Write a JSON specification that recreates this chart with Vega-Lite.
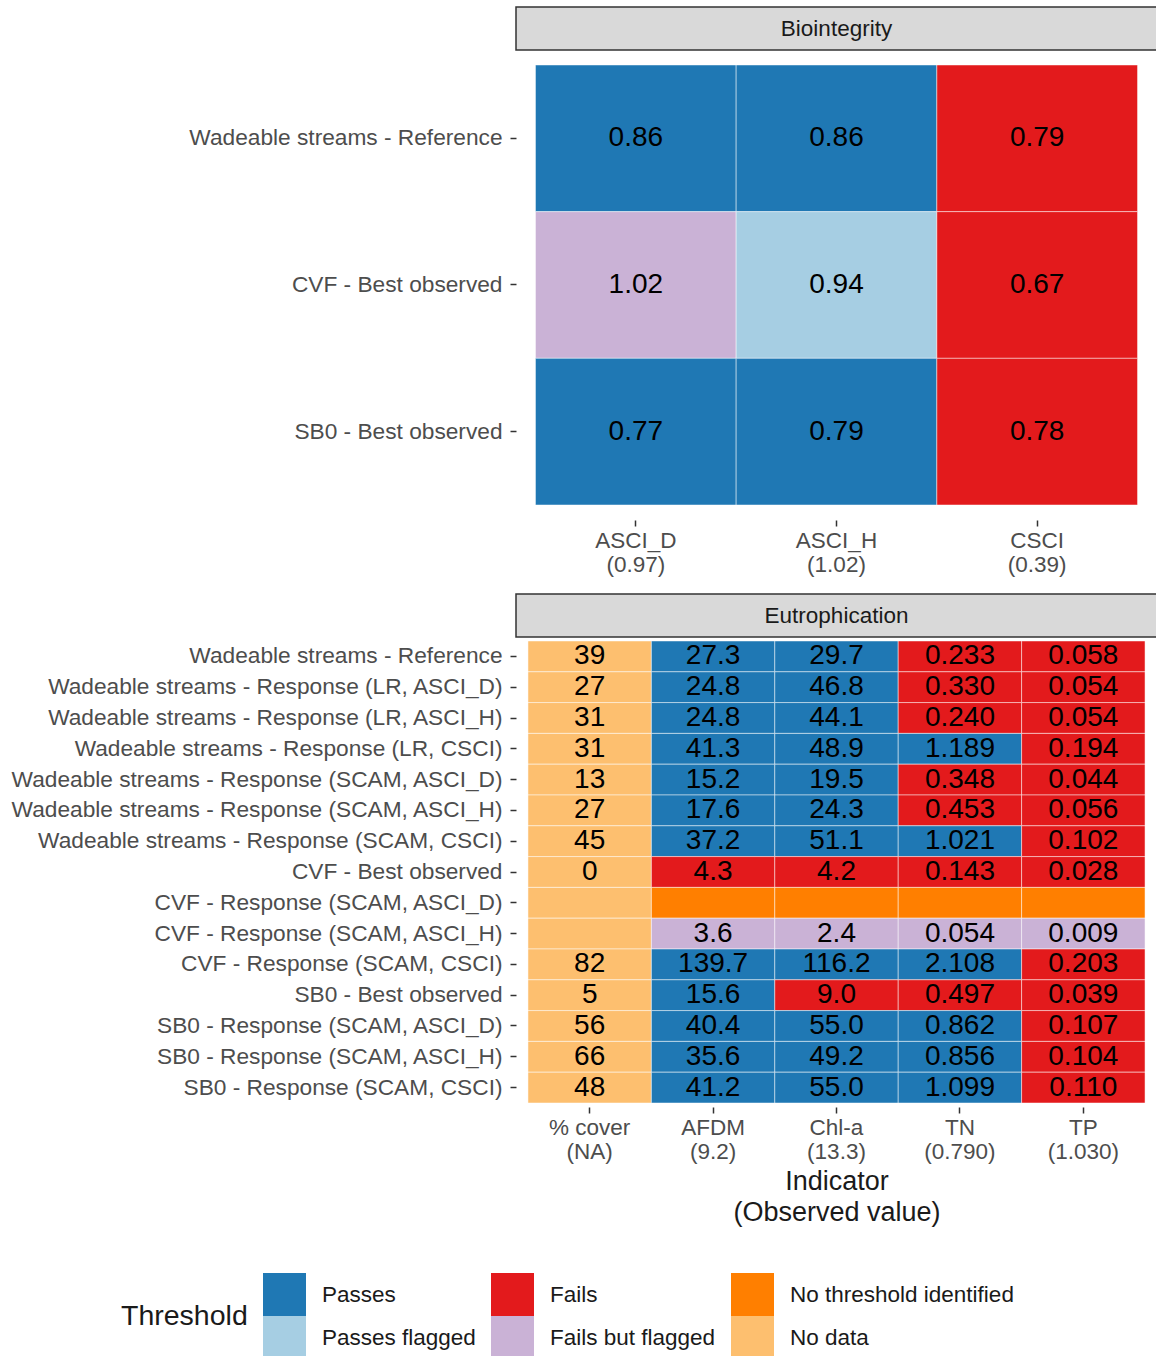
{
  "$schema": "https://vega.github.io/schema/vega-lite/v6.json",
  "padding": {"left": 9, "top": 6, "right": 0, "bottom": 0},
  "autosize": {"type": "pad"},
  "spacing": 0,
  "bounds": "flush",
  "config": {
    "font": "Liberation Sans",
    "view": {"stroke": null},
    "axis": {
      "domain": false, "grid": false, "ticks": true,
      "tickColor": "#333333", "tickWidth": 1.5, "tickSize": 6,
      "labelColor": "#4D4D4D", "labelFontSize": 22.5, "labelPadding": 4, "labelLimit": 700,
      "titleColor": "#1A1A1A", "titleFontWeight": "normal"
    },
    "axisX": {"labelAngle": 0, "labelLineHeight": 24, "labelPadding": 3},
    "axisY": {"labelPadding": 8, "labelFontSize": 22.7},
    "legend": {
      "orient": "none", "legendX": -395, "legendY": 1266,
      "direction": "horizontal", "columns": 3,
      "symbolType": "square", "symbolSize": 1849, "symbolStrokeWidth": 0, "symbolOpacity": 1,
      "titleOrient": "left", "titleFontSize": 28.5, "titleFontWeight": "normal", "titleColor": "#1A1A1A",
      "titleAnchor": "middle", "titleBaseline": "middle", "titlePadding": 15,
      "labelFontSize": 22.5, "labelColor": "#1A1A1A", "labelOffset": 16, "labelLimit": 400,
      "rowPadding": 0, "columnPadding": 15, "gridAlign": "each"
    }
  },
  "datasets": {
    "bio": [
      {"site": "Wadeable streams - Reference", "indicator": "ASCI_D|(0.97)", "label": "0.86", "status": "Passes"},
      {"site": "Wadeable streams - Reference", "indicator": "ASCI_H|(1.02)", "label": "0.86", "status": "Passes"},
      {"site": "Wadeable streams - Reference", "indicator": "CSCI|(0.39)", "label": "0.79", "status": "Fails"},
      {"site": "CVF - Best observed", "indicator": "ASCI_D|(0.97)", "label": "1.02", "status": "Fails but flagged"},
      {"site": "CVF - Best observed", "indicator": "ASCI_H|(1.02)", "label": "0.94", "status": "Passes flagged"},
      {"site": "CVF - Best observed", "indicator": "CSCI|(0.39)", "label": "0.67", "status": "Fails"},
      {"site": "SB0 - Best observed", "indicator": "ASCI_D|(0.97)", "label": "0.77", "status": "Passes"},
      {"site": "SB0 - Best observed", "indicator": "ASCI_H|(1.02)", "label": "0.79", "status": "Passes"},
      {"site": "SB0 - Best observed", "indicator": "CSCI|(0.39)", "label": "0.78", "status": "Fails"}
    ],
    "eut": [
      {"site": "Wadeable streams - Reference", "indicator": "% cover|(NA)", "label": "39", "status": "No data"},
      {"site": "Wadeable streams - Reference", "indicator": "AFDM|(9.2)", "label": "27.3", "status": "Passes"},
      {"site": "Wadeable streams - Reference", "indicator": "Chl-a|(13.3)", "label": "29.7", "status": "Passes"},
      {"site": "Wadeable streams - Reference", "indicator": "TN|(0.790)", "label": "0.233", "status": "Fails"},
      {"site": "Wadeable streams - Reference", "indicator": "TP|(1.030)", "label": "0.058", "status": "Fails"},
      {"site": "Wadeable streams - Response (LR, ASCI_D)", "indicator": "% cover|(NA)", "label": "27", "status": "No data"},
      {"site": "Wadeable streams - Response (LR, ASCI_D)", "indicator": "AFDM|(9.2)", "label": "24.8", "status": "Passes"},
      {"site": "Wadeable streams - Response (LR, ASCI_D)", "indicator": "Chl-a|(13.3)", "label": "46.8", "status": "Passes"},
      {"site": "Wadeable streams - Response (LR, ASCI_D)", "indicator": "TN|(0.790)", "label": "0.330", "status": "Fails"},
      {"site": "Wadeable streams - Response (LR, ASCI_D)", "indicator": "TP|(1.030)", "label": "0.054", "status": "Fails"},
      {"site": "Wadeable streams - Response (LR, ASCI_H)", "indicator": "% cover|(NA)", "label": "31", "status": "No data"},
      {"site": "Wadeable streams - Response (LR, ASCI_H)", "indicator": "AFDM|(9.2)", "label": "24.8", "status": "Passes"},
      {"site": "Wadeable streams - Response (LR, ASCI_H)", "indicator": "Chl-a|(13.3)", "label": "44.1", "status": "Passes"},
      {"site": "Wadeable streams - Response (LR, ASCI_H)", "indicator": "TN|(0.790)", "label": "0.240", "status": "Fails"},
      {"site": "Wadeable streams - Response (LR, ASCI_H)", "indicator": "TP|(1.030)", "label": "0.054", "status": "Fails"},
      {"site": "Wadeable streams - Response (LR, CSCI)", "indicator": "% cover|(NA)", "label": "31", "status": "No data"},
      {"site": "Wadeable streams - Response (LR, CSCI)", "indicator": "AFDM|(9.2)", "label": "41.3", "status": "Passes"},
      {"site": "Wadeable streams - Response (LR, CSCI)", "indicator": "Chl-a|(13.3)", "label": "48.9", "status": "Passes"},
      {"site": "Wadeable streams - Response (LR, CSCI)", "indicator": "TN|(0.790)", "label": "1.189", "status": "Passes"},
      {"site": "Wadeable streams - Response (LR, CSCI)", "indicator": "TP|(1.030)", "label": "0.194", "status": "Fails"},
      {"site": "Wadeable streams - Response (SCAM, ASCI_D)", "indicator": "% cover|(NA)", "label": "13", "status": "No data"},
      {"site": "Wadeable streams - Response (SCAM, ASCI_D)", "indicator": "AFDM|(9.2)", "label": "15.2", "status": "Passes"},
      {"site": "Wadeable streams - Response (SCAM, ASCI_D)", "indicator": "Chl-a|(13.3)", "label": "19.5", "status": "Passes"},
      {"site": "Wadeable streams - Response (SCAM, ASCI_D)", "indicator": "TN|(0.790)", "label": "0.348", "status": "Fails"},
      {"site": "Wadeable streams - Response (SCAM, ASCI_D)", "indicator": "TP|(1.030)", "label": "0.044", "status": "Fails"},
      {"site": "Wadeable streams - Response (SCAM, ASCI_H)", "indicator": "% cover|(NA)", "label": "27", "status": "No data"},
      {"site": "Wadeable streams - Response (SCAM, ASCI_H)", "indicator": "AFDM|(9.2)", "label": "17.6", "status": "Passes"},
      {"site": "Wadeable streams - Response (SCAM, ASCI_H)", "indicator": "Chl-a|(13.3)", "label": "24.3", "status": "Passes"},
      {"site": "Wadeable streams - Response (SCAM, ASCI_H)", "indicator": "TN|(0.790)", "label": "0.453", "status": "Fails"},
      {"site": "Wadeable streams - Response (SCAM, ASCI_H)", "indicator": "TP|(1.030)", "label": "0.056", "status": "Fails"},
      {"site": "Wadeable streams - Response (SCAM, CSCI)", "indicator": "% cover|(NA)", "label": "45", "status": "No data"},
      {"site": "Wadeable streams - Response (SCAM, CSCI)", "indicator": "AFDM|(9.2)", "label": "37.2", "status": "Passes"},
      {"site": "Wadeable streams - Response (SCAM, CSCI)", "indicator": "Chl-a|(13.3)", "label": "51.1", "status": "Passes"},
      {"site": "Wadeable streams - Response (SCAM, CSCI)", "indicator": "TN|(0.790)", "label": "1.021", "status": "Passes"},
      {"site": "Wadeable streams - Response (SCAM, CSCI)", "indicator": "TP|(1.030)", "label": "0.102", "status": "Fails"},
      {"site": "CVF - Best observed", "indicator": "% cover|(NA)", "label": "0", "status": "No data"},
      {"site": "CVF - Best observed", "indicator": "AFDM|(9.2)", "label": "4.3", "status": "Fails"},
      {"site": "CVF - Best observed", "indicator": "Chl-a|(13.3)", "label": "4.2", "status": "Fails"},
      {"site": "CVF - Best observed", "indicator": "TN|(0.790)", "label": "0.143", "status": "Fails"},
      {"site": "CVF - Best observed", "indicator": "TP|(1.030)", "label": "0.028", "status": "Fails"},
      {"site": "CVF - Response (SCAM, ASCI_D)", "indicator": "% cover|(NA)", "label": "", "status": "No data"},
      {"site": "CVF - Response (SCAM, ASCI_D)", "indicator": "AFDM|(9.2)", "label": "", "status": "No threshold identified"},
      {"site": "CVF - Response (SCAM, ASCI_D)", "indicator": "Chl-a|(13.3)", "label": "", "status": "No threshold identified"},
      {"site": "CVF - Response (SCAM, ASCI_D)", "indicator": "TN|(0.790)", "label": "", "status": "No threshold identified"},
      {"site": "CVF - Response (SCAM, ASCI_D)", "indicator": "TP|(1.030)", "label": "", "status": "No threshold identified"},
      {"site": "CVF - Response (SCAM, ASCI_H)", "indicator": "% cover|(NA)", "label": "", "status": "No data"},
      {"site": "CVF - Response (SCAM, ASCI_H)", "indicator": "AFDM|(9.2)", "label": "3.6", "status": "Fails but flagged"},
      {"site": "CVF - Response (SCAM, ASCI_H)", "indicator": "Chl-a|(13.3)", "label": "2.4", "status": "Fails but flagged"},
      {"site": "CVF - Response (SCAM, ASCI_H)", "indicator": "TN|(0.790)", "label": "0.054", "status": "Fails but flagged"},
      {"site": "CVF - Response (SCAM, ASCI_H)", "indicator": "TP|(1.030)", "label": "0.009", "status": "Fails but flagged"},
      {"site": "CVF - Response (SCAM, CSCI)", "indicator": "% cover|(NA)", "label": "82", "status": "No data"},
      {"site": "CVF - Response (SCAM, CSCI)", "indicator": "AFDM|(9.2)", "label": "139.7", "status": "Passes"},
      {"site": "CVF - Response (SCAM, CSCI)", "indicator": "Chl-a|(13.3)", "label": "116.2", "status": "Passes"},
      {"site": "CVF - Response (SCAM, CSCI)", "indicator": "TN|(0.790)", "label": "2.108", "status": "Passes"},
      {"site": "CVF - Response (SCAM, CSCI)", "indicator": "TP|(1.030)", "label": "0.203", "status": "Fails"},
      {"site": "SB0 - Best observed", "indicator": "% cover|(NA)", "label": "5", "status": "No data"},
      {"site": "SB0 - Best observed", "indicator": "AFDM|(9.2)", "label": "15.6", "status": "Passes"},
      {"site": "SB0 - Best observed", "indicator": "Chl-a|(13.3)", "label": "9.0", "status": "Fails"},
      {"site": "SB0 - Best observed", "indicator": "TN|(0.790)", "label": "0.497", "status": "Fails"},
      {"site": "SB0 - Best observed", "indicator": "TP|(1.030)", "label": "0.039", "status": "Fails"},
      {"site": "SB0 - Response (SCAM, ASCI_D)", "indicator": "% cover|(NA)", "label": "56", "status": "No data"},
      {"site": "SB0 - Response (SCAM, ASCI_D)", "indicator": "AFDM|(9.2)", "label": "40.4", "status": "Passes"},
      {"site": "SB0 - Response (SCAM, ASCI_D)", "indicator": "Chl-a|(13.3)", "label": "55.0", "status": "Passes"},
      {"site": "SB0 - Response (SCAM, ASCI_D)", "indicator": "TN|(0.790)", "label": "0.862", "status": "Passes"},
      {"site": "SB0 - Response (SCAM, ASCI_D)", "indicator": "TP|(1.030)", "label": "0.107", "status": "Fails"},
      {"site": "SB0 - Response (SCAM, ASCI_H)", "indicator": "% cover|(NA)", "label": "66", "status": "No data"},
      {"site": "SB0 - Response (SCAM, ASCI_H)", "indicator": "AFDM|(9.2)", "label": "35.6", "status": "Passes"},
      {"site": "SB0 - Response (SCAM, ASCI_H)", "indicator": "Chl-a|(13.3)", "label": "49.2", "status": "Passes"},
      {"site": "SB0 - Response (SCAM, ASCI_H)", "indicator": "TN|(0.790)", "label": "0.856", "status": "Passes"},
      {"site": "SB0 - Response (SCAM, ASCI_H)", "indicator": "TP|(1.030)", "label": "0.104", "status": "Fails"},
      {"site": "SB0 - Response (SCAM, CSCI)", "indicator": "% cover|(NA)", "label": "48", "status": "No data"},
      {"site": "SB0 - Response (SCAM, CSCI)", "indicator": "AFDM|(9.2)", "label": "41.2", "status": "Passes"},
      {"site": "SB0 - Response (SCAM, CSCI)", "indicator": "Chl-a|(13.3)", "label": "55.0", "status": "Passes"},
      {"site": "SB0 - Response (SCAM, CSCI)", "indicator": "TN|(0.790)", "label": "1.099", "status": "Passes"},
      {"site": "SB0 - Response (SCAM, CSCI)", "indicator": "TP|(1.030)", "label": "0.110", "status": "Fails"}
    ]
  },
  "vconcat": [
    {
      "width": 641, "height": 43,
      "view": {"fill": "#D9D9D9", "stroke": "#333333", "strokeWidth": 1.5},
      "data": {"values": [{"panel": "Biointegrity"}]},
      "mark": {"type": "text", "fontSize": 22.5, "color": "#1A1A1A"},
      "encoding": {
        "x": {"field": "panel", "type": "nominal", "axis": null},
        "y": {"field": "panel", "type": "nominal", "axis": null},
        "text": {"field": "panel"}
      }
    },
    {
      "width": 641, "height": 544,
      "data": {"name": "bio"},
      "encoding": {
        "x": {"field": "indicator", "type": "nominal", "sort": ["ASCI_D|(0.97)", "ASCI_H|(1.02)", "CSCI|(0.39)"],
              "scale": {"paddingInner": 0, "paddingOuter": 0.097},
              "axis": {"title": null, "labelExpr": "split(datum.label, '|')", "offset": -74}},
        "y": {"field": "site", "type": "nominal", "sort": ["Wadeable streams - Reference", "CVF - Best observed", "SB0 - Best observed"],
              "scale": {"paddingInner": 0, "paddingOuter": 0.3546, "align": 0.1442},
              "axis": {"title": null}}
      },
      "layer": [
        {
          "mark": {"type": "rect", "stroke": "#FFFFFF", "strokeWidth": 0.8, "strokeOpacity": 0.6},
          "encoding": {
            "color": {"field": "status", "type": "nominal", "title": "Threshold",
              "scale": {"domain": ["Passes", "Fails", "No threshold identified", "Passes flagged", "Fails but flagged", "No data"],
                        "range": ["#1F78B4", "#E31A1C", "#FF7F00", "#A6CEE3", "#CAB2D6", "#FDBF6F"]}}
          }
        },
        {"mark": {"type": "text", "fontSize": 28, "color": "#000000"}, "encoding": {"text": {"field": "label"}}}
      ]
    },
    {
      "width": 641, "height": 43,
      "view": {"fill": "#D9D9D9", "stroke": "#333333", "strokeWidth": 1.5},
      "data": {"values": [{"panel": "Eutrophication"}]},
      "mark": {"type": "text", "fontSize": 22.5, "color": "#1A1A1A"},
      "encoding": {
        "x": {"field": "panel", "type": "nominal", "axis": null},
        "y": {"field": "panel", "type": "nominal", "axis": null},
        "text": {"field": "panel"}
      }
    },
    {
      "width": 641, "height": 470,
      "data": {"name": "eut"},
      "encoding": {
        "x": {"field": "indicator", "type": "nominal", "sort": ["% cover|(NA)", "AFDM|(9.2)", "Chl-a|(13.3)", "TN|(0.790)", "TP|(1.030)"],
              "scale": {"paddingInner": 0, "paddingOuter": 0.097},
              "axis": {"title": ["Indicator", "(Observed value)"], "titleFontSize": 27, "titleLineHeight": 31, "titlePadding": 6,
                       "labelExpr": "split(datum.label, '|')"}},
        "y": {"field": "site", "type": "nominal",
              "sort": ["Wadeable streams - Reference", "Wadeable streams - Response (LR, ASCI_D)", "Wadeable streams - Response (LR, ASCI_H)", "Wadeable streams - Response (LR, CSCI)", "Wadeable streams - Response (SCAM, ASCI_D)", "Wadeable streams - Response (SCAM, ASCI_H)", "Wadeable streams - Response (SCAM, CSCI)", "CVF - Best observed", "CVF - Response (SCAM, ASCI_D)", "CVF - Response (SCAM, ASCI_H)", "CVF - Response (SCAM, CSCI)", "SB0 - Best observed", "SB0 - Response (SCAM, ASCI_D)", "SB0 - Response (SCAM, ASCI_H)", "SB0 - Response (SCAM, CSCI)"],
              "scale": {"paddingInner": 0, "paddingOuter": 0.13},
              "axis": {"title": null}}
      },
      "layer": [
        {
          "mark": {"type": "rect", "stroke": "#FFFFFF", "strokeWidth": 0.8, "strokeOpacity": 0.6},
          "encoding": {
            "color": {"field": "status", "type": "nominal", "title": "Threshold",
              "scale": {"domain": ["Passes", "Fails", "No threshold identified", "Passes flagged", "Fails but flagged", "No data"],
                        "range": ["#1F78B4", "#E31A1C", "#FF7F00", "#A6CEE3", "#CAB2D6", "#FDBF6F"]}}
          }
        },
        {"mark": {"type": "text", "fontSize": 28, "color": "#000000"}, "encoding": {"text": {"field": "label"}}}
      ]
    }
  ]
}
